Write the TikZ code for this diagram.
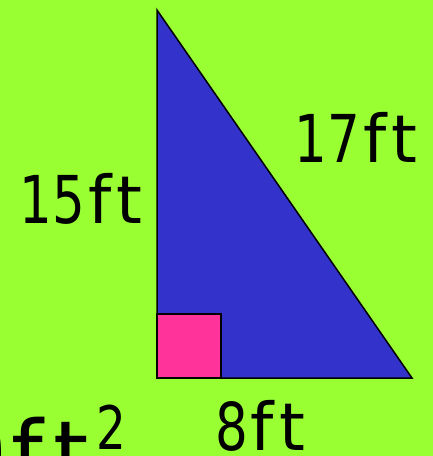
\documentclass[tikz,border=0pt]{standalone}
\usepackage{fontspec}
\setmainfont{DejaVu Sans}
\definecolor{bggreen}{RGB}{153,255,51}
\definecolor{triblue}{RGB}{51,51,204}
\definecolor{sqpink}{RGB}{255,51,153}
\tikzset{
  lbl/.style={inner sep=0pt, outer sep=0pt, font=\fontsize{66}{66}\selectfont, text=black},
  biglbl/.style={inner sep=0pt, outer sep=0pt, font=\fontsize{90}{90}\selectfont, text=black},
}
\newcommand{\dg}[1]{\scalebox{0.78}[1]{#1}}
\newcommand{\ftt}{\hspace{3pt}f\hspace{5pt}t}
\begin{document}
\begin{tikzpicture}[x=1pt,y=-1pt]
\fill[bggreen] (0,0) rectangle (433,456);
\useasboundingbox (0,0) rectangle (433,456);
\coordinate (A) at (157,10);
\coordinate (B) at (157,378);
\coordinate (C) at (412,378);
\filldraw[fill=triblue, draw=black, line width=1.5pt, line join=miter] (A) -- (B) -- (C) -- cycle;
\filldraw[fill=sqpink, draw=black, line width=2pt] (157,314) rectangle (221,378);
\node[lbl, anchor=base] (l15) at (81,223) {\dg{15}\ftt};
\node[lbl, anchor=base] (l17) at (356,162) {\dg{17}\ftt};
\node[lbl, anchor=base] (l8) at (260,450) {\dg{8}\ftt};
\node[biglbl, anchor=base east] (l60) at (6,485) {\dg{60}};
\node[biglbl, anchor=base west] (lft) at (12,485) {f\hspace{10pt}t\hspace{8pt}\raisebox{36pt}{\fontsize{60}{60}\selectfont\dg{2}}};
\end{tikzpicture}
\end{document}
